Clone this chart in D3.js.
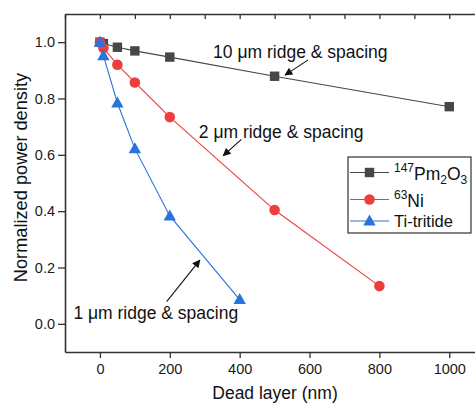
<!DOCTYPE html>
<html>
<head>
<meta charset="utf-8">
<script src="https://cdn.jsdelivr.net/npm/d3@7"></script>
<style>
  body { margin: 0; background: #fff; }
  svg { font-family: "Liberation Sans", Arial, sans-serif; }
</style>
</head>
<body>
<div id="chart"></div>
<script>
// dead layer thickness (nm)
const pmX = [0, 10, 50, 100, 200, 500, 1000];
const pmY = [1.0, 0.995, 0.982, 0.969, 0.947, 0.879, 0.771];
const niX = [0, 10, 50, 100, 200, 500, 800];
const niY = [1.0, 0.979, 0.92, 0.857, 0.734, 0.404, 0.134];
const tiX = [0, 10, 50, 100, 200, 400];
const tiY = [1.0, 0.952, 0.784, 0.622, 0.383, 0.086];

const xTicks = [0, 200, 400, 600, 800, 1000];
const yTicks = [0.0, 0.2, 0.4, 0.6, 0.8, 1.0];

const series = [
  { name: 'Pm', xs: pmX, ys: pmY, color: '#474747', shape: 'square' },
  { name: 'Ni', xs: niX, ys: niY, color: '#ee3d3d', shape: 'circle' },
  { name: 'Ti', xs: tiX, ys: tiY, color: '#2a72dc', shape: 'triangle' },
];

// annotation: text anchor in data coords, arrow tail/head in data coords
const notes = [
  { label: '10 \u03bcm ridge & spacing', at: [324, 0.9455], tail: [596, 0.937], head: [530, 0.883] },
  { label: '2 \u03bcm ridge & spacing', at: [283, 0.659], tail: [405, 0.655], head: [353, 0.597] },
  { label: '1 \u03bcm ridge & spacing', at: [-76, 0.016], tail: [191, 0.079], head: [286, 0.226] },
];

const width = 475, height = 405;
const margin = { left: 65, top: 14 };
const plotW = 419.2, plotH = 338;

const svg = d3.select('#chart').append('svg')
  .attr('width', width).attr('height', height);

const x = d3.scaleLinear().domain([-100, 1100]).range([margin.left, margin.left + plotW]);
const y = d3.scaleLinear().domain([-0.1, 1.1]).range([margin.top + plotH, margin.top]);

const axisColor = '#333';

// bottom axis
const bottom = svg.append('g')
  .attr('transform', `translate(0, ${margin.top + plotH})`)
  .call(d3.axisBottom(x).tickValues(d3.range(-100, 1101, 100)).tickSize(3).tickFormat(''));
bottom.call(d3.axisBottom(x).tickValues(xTicks).tickSize(6).tickSizeOuter(0).tickPadding(6).tickFormat(d3.format('d')));
bottom.selectAll('text').attr('font-size', 14.5).attr('fill', '#1a1a1a');

// top axis (inward ticks)
svg.append('g')
  .attr('transform', `translate(0, ${margin.top})`)
  .call(d3.axisBottom(x).tickValues(d3.range(-100, 1101, 100)).tickSize(5).tickSizeOuter(0).tickFormat(''));

// left axis
const left = svg.append('g')
  .attr('transform', `translate(${margin.left}, 0)`)
  .call(d3.axisLeft(y).tickValues(d3.range(-0.1, 1.101, 0.1)).tickSize(4).tickFormat(''));
left.call(d3.axisLeft(y).tickValues(yTicks).tickSize(7).tickSizeOuter(0).tickPadding(3).tickFormat(d3.format('.1f')));
left.selectAll('text').attr('font-size', 14.5).attr('fill', '#1a1a1a');

// right axis (off to the right, inward ticks)
svg.append('g')
  .attr('transform', `translate(${margin.left + plotW}, 0)`)
  .call(d3.axisRight(y).tickValues(d3.range(-0.1, 1.101, 0.1)).tickSize(-5).tickSizeOuter(0).tickFormat(''));

svg.selectAll('.domain').attr('stroke', axisColor).attr('stroke-width', 1.6);
svg.selectAll('.tick line').attr('stroke', axisColor).attr('stroke-width', 1.3);

// lines
const line = d3.line().x(d => x(d[0])).y(d => y(d[1]));

function marker(g, shape, color, cx, cy) {
  if (shape === 'square') {
    g.append('rect').attr('x', cx - 4.7).attr('y', cy - 4.7).attr('width', 9.4).attr('height', 9.4).attr('fill', color);
  } else if (shape === 'circle') {
    g.append('circle').attr('cx', cx).attr('cy', cy).attr('r', 5.3).attr('fill', color);
  } else {
    g.append('path').attr('d', `M${cx},${cy - 6.5}L${cx + 6.2},${cy + 4.5}L${cx - 6.2},${cy + 4.5}Z`).attr('fill', color);
  }
}

series.forEach(s => {
  const pts = s.xs.map((v, i) => [v, s.ys[i]]);
  svg.append('path').datum(pts).attr('d', line)
    .attr('fill', 'none').attr('stroke', s.color).attr('stroke-width', 1.1);
});
series.forEach(s => {
  const g = svg.append('g');
  s.xs.forEach((v, i) => marker(g, s.shape, s.color, x(v), y(s.ys[i])));
});

// annotations
svg.append('defs').append('marker')
  .attr('id', 'arrow').attr('viewBox', '0 0 10 10').attr('refX', 9).attr('refY', 5)
  .attr('markerWidth', 9).attr('markerHeight', 8).attr('orient', 'auto')
  .attr('markerUnits', 'userSpaceOnUse')
  .append('path').attr('d', 'M0,0L10,5L0,10Z').attr('fill', '#111');

notes.forEach(n => {
  svg.append('text').attr('x', x(n.at[0])).attr('y', y(n.at[1]))
    .attr('font-size', 17.5).attr('fill', '#111').text(n.label);
  svg.append('line')
    .attr('x1', x(n.tail[0])).attr('y1', y(n.tail[1]))
    .attr('x2', x(n.head[0])).attr('y2', y(n.head[1]))
    .attr('stroke', '#111').attr('stroke-width', 1.1).attr('marker-end', 'url(#arrow)');
});

// legend
const lg = svg.append('g');
lg.append('rect').attr('x', 348).attr('y', 157).attr('width', 123).attr('height', 76)
  .attr('fill', '#fff').attr('stroke', '#333').attr('stroke-width', 1.2);
const rowY = [172.5, 199.5, 221];
series.forEach((s, i) => {
  lg.append('line').attr('x1', 350).attr('x2', 389).attr('y1', rowY[i]).attr('y2', rowY[i])
    .attr('stroke', s.color).attr('stroke-width', 1.1);
  marker(lg, s.shape, s.color, 369.5, rowY[i]);
});
const t0 = lg.append('text').attr('x', 394).attr('y', rowY[0] + 7).attr('font-size', 17.5).attr('fill', '#111');
t0.append('tspan').attr('font-size', 12).attr('dy', -8).text('147');
t0.append('tspan').attr('dy', 8).text('Pm');
t0.append('tspan').attr('font-size', 12).attr('dy', 4).text('2');
t0.append('tspan').attr('dy', -4).text('O');
t0.append('tspan').attr('font-size', 12).attr('dy', 4).text('3');
const t1 = lg.append('text').attr('x', 394).attr('y', rowY[1] + 7).attr('font-size', 17.5).attr('fill', '#111');
t1.append('tspan').attr('font-size', 12).attr('dy', -8).text('63');
t1.append('tspan').attr('dy', 8).text('Ni');
lg.append('text').attr('x', 394).attr('y', rowY[2] + 6).attr('font-size', 16.5).attr('fill', '#111').text('Ti-tritide');

// axis titles
svg.append('text').attr('x', 275).attr('y', 399).attr('text-anchor', 'middle')
  .attr('font-size', 17.5).attr('fill', '#111').text('Dead layer (nm)');
svg.append('text').attr('transform', 'translate(27, 177.5) rotate(-90)').attr('text-anchor', 'middle')
  .attr('font-size', 18.2).attr('fill', '#111').text('Normalized power density');
</script>
</body>
</html>
